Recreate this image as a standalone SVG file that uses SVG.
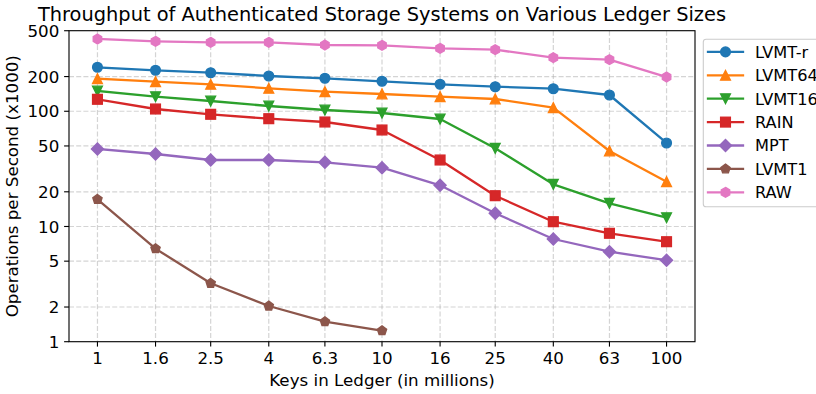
<svg xmlns="http://www.w3.org/2000/svg" width="816" height="394" viewBox="0 0 816 394">
  <style>
    text { font-family: "DejaVu Sans", "Liberation Sans", sans-serif; fill: #000; }
    .tick { font-size: 16.7px; }
    .xt { text-anchor: middle; }
    .yt { text-anchor: end; }
    .lab { font-size: 16.7px; text-anchor: middle; }
    .title { font-size: 19.4px; text-anchor: middle; }
    .leg { font-size: 16.2px; }
    .grid line { stroke: #b0b0b0; stroke-opacity: 0.55; stroke-width: 1.2; stroke-dasharray: 5 2.2; }
    .ticks line { stroke: #000; stroke-width: 1.11; }
    .series polyline { fill: none; stroke-width: 2.3; stroke-linejoin: round; stroke-linecap: square; }
    .mk { stroke-width: 1.39; stroke-linejoin: miter; }
  </style>
  <defs>
    <marker id="m-lvmtr" markerUnits="userSpaceOnUse" viewBox="-10 -10 20 20" markerWidth="20" markerHeight="20" refX="0" refY="0" overflow="visible">
      <circle class="mk" r="4.86" fill="#1f77b4" stroke="#1f77b4"/>
    </marker>
    <marker id="m-lvmt64" markerUnits="userSpaceOnUse" viewBox="-10 -10 20 20" markerWidth="20" markerHeight="20" refX="0" refY="0" overflow="visible">
      <polygon class="mk" points="0,-4.86 -4.86,4.86 4.86,4.86" fill="#ff7f0e" stroke="#ff7f0e"/>
    </marker>
    <marker id="m-lvmt16" markerUnits="userSpaceOnUse" viewBox="-10 -10 20 20" markerWidth="20" markerHeight="20" refX="0" refY="0" overflow="visible">
      <polygon class="mk" points="0,4.86 -4.86,-4.86 4.86,-4.86" fill="#2ca02c" stroke="#2ca02c"/>
    </marker>
    <marker id="m-rain" markerUnits="userSpaceOnUse" viewBox="-10 -10 20 20" markerWidth="20" markerHeight="20" refX="0" refY="0" overflow="visible">
      <rect class="mk" x="-4.86" y="-4.86" width="9.72" height="9.72" fill="#d62728" stroke="#d62728"/>
    </marker>
    <marker id="m-mpt" markerUnits="userSpaceOnUse" viewBox="-10 -10 20 20" markerWidth="20" markerHeight="20" refX="0" refY="0" overflow="visible">
      <polygon class="mk" points="0,-6 6,0 0,6 -6,0" fill="#9467bd" stroke="#9467bd"/>
    </marker>
    <marker id="m-lvmt1" markerUnits="userSpaceOnUse" viewBox="-10 -10 20 20" markerWidth="20" markerHeight="20" refX="0" refY="0" overflow="visible">
      <polygon class="mk" points="0,-4.86 4.622,-1.502 2.857,3.932 -2.857,3.932 -4.622,-1.502" fill="#8c564b" stroke="#8c564b"/>
    </marker>
    <marker id="m-raw" markerUnits="userSpaceOnUse" viewBox="-10 -10 20 20" markerWidth="20" markerHeight="20" refX="0" refY="0" overflow="visible">
      <polygon class="mk" points="0,-4.86 4.209,-2.43 4.209,2.43 0,4.86 -4.209,2.43 -4.209,-2.43" fill="#e377c2" stroke="#e377c2"/>
    </marker>
  </defs>

  <rect width="816" height="394" fill="#ffffff"/>

  <!-- dashed grid -->
  <g class="grid" id="grid">
    <line x1="69" y1="76.57" x2="695" y2="76.57"/>
    <line x1="69" y1="111.26" x2="695" y2="111.26"/>
    <line x1="69" y1="145.95" x2="695" y2="145.95"/>
    <line x1="69" y1="191.80" x2="695" y2="191.80"/>
    <line x1="69" y1="226.48" x2="695" y2="226.48"/>
    <line x1="69" y1="261.16" x2="695" y2="261.16"/>
    <line x1="69" y1="307.02" x2="695" y2="307.02"/>
    <line x1="97.45" y1="30.7" x2="97.45" y2="341.7"/>
    <line x1="155.53" y1="30.7" x2="155.53" y2="341.7"/>
    <line x1="210.68" y1="30.7" x2="210.68" y2="341.7"/>
    <line x1="268.77" y1="30.7" x2="268.77" y2="341.7"/>
    <line x1="324.90" y1="30.7" x2="324.90" y2="341.7"/>
    <line x1="382.00" y1="30.7" x2="382.00" y2="341.7"/>
    <line x1="440.08" y1="30.7" x2="440.08" y2="341.7"/>
    <line x1="495.23" y1="30.7" x2="495.23" y2="341.7"/>
    <line x1="553.32" y1="30.7" x2="553.32" y2="341.7"/>
    <line x1="609.45" y1="30.7" x2="609.45" y2="341.7"/>
    <line x1="666.55" y1="30.7" x2="666.55" y2="341.7"/>
  </g>

  <!-- data series -->
  <g class="series" id="connectors">
    <g id="s-lvmtr">
      <polyline stroke="#1f77b4" marker-start="url(#m-lvmtr)" marker-mid="url(#m-lvmtr)" marker-end="url(#m-lvmtr)"
        points="97.45,67.3 155.53,70.3 210.68,72.7 268.77,76 324.90,78.3 382.00,81.3 440.08,84.3 495.23,86.7 553.32,88.7 609.45,95 666.55,143"/>
    </g>
    <g id="s-lvmt64">
      <polyline stroke="#ff7f0e" marker-start="url(#m-lvmt64)" marker-mid="url(#m-lvmt64)" marker-end="url(#m-lvmt64)"
        points="97.45,78.7 155.53,81.7 210.68,84.3 268.77,88.3 324.90,91.7 382.00,94 440.08,96.7 495.23,99 553.32,107.7 609.45,151 666.55,181.7"/>
    </g>
    <g id="s-lvmt16">
      <polyline stroke="#2ca02c" marker-start="url(#m-lvmt16)" marker-mid="url(#m-lvmt16)" marker-end="url(#m-lvmt16)"
        points="97.45,91 155.53,96.7 210.68,101 268.77,106 324.90,110 382.00,113 440.08,119 495.23,148.3 553.32,184.3 609.45,203.3 666.55,217.7"/>
    </g>
    <g id="s-rain">
      <polyline stroke="#d62728" marker-start="url(#m-rain)" marker-mid="url(#m-rain)" marker-end="url(#m-rain)"
        points="97.45,99.3 155.53,109 210.68,114.3 268.77,118.7 324.90,122 382.00,130 440.08,160 495.23,195.7 553.32,221.7 609.45,233.3 666.55,241.7"/>
    </g>
    <g id="s-mpt">
      <polyline stroke="#9467bd" marker-start="url(#m-mpt)" marker-mid="url(#m-mpt)" marker-end="url(#m-mpt)"
        points="97.45,149 155.53,154 210.68,160 268.77,160 324.90,162.3 382.00,167.7 440.08,185.3 495.23,213.3 553.32,239 609.45,251.7 666.55,260.3"/>
    </g>
    <g id="s-lvmt1">
      <polyline stroke="#8c564b" marker-start="url(#m-lvmt1)" marker-mid="url(#m-lvmt1)" marker-end="url(#m-lvmt1)"
        points="97.45,199.3 155.53,248.7 210.68,283.3 268.77,306 324.90,321.7 382.00,330.7"/>
    </g>
    <g id="s-raw">
      <polyline stroke="#e377c2" marker-start="url(#m-raw)" marker-mid="url(#m-raw)" marker-end="url(#m-raw)"
        points="97.45,39 155.53,41.3 210.68,42.3 268.77,42.3 324.90,45 382.00,45.3 440.08,48.3 495.23,49.7 553.32,57.7 609.45,59.7 666.55,77"/>
    </g>
  </g>

  <!-- axes frame and ticks -->
  <g id="axes">
    <rect x="69" y="30.7" width="626" height="311" fill="none" stroke="#000" stroke-width="1.11"/>
    <g class="ticks">
      <line x1="64.1" y1="30.72" x2="69" y2="30.72"/>
      <line x1="64.1" y1="76.57" x2="69" y2="76.57"/>
      <line x1="64.1" y1="111.26" x2="69" y2="111.26"/>
      <line x1="64.1" y1="145.95" x2="69" y2="145.95"/>
      <line x1="64.1" y1="191.80" x2="69" y2="191.80"/>
      <line x1="64.1" y1="226.48" x2="69" y2="226.48"/>
      <line x1="64.1" y1="261.16" x2="69" y2="261.16"/>
      <line x1="64.1" y1="307.02" x2="69" y2="307.02"/>
      <line x1="64.1" y1="341.7" x2="69" y2="341.7"/>
      <line x1="97.45" y1="341.7" x2="97.45" y2="346.6"/>
      <line x1="155.53" y1="341.7" x2="155.53" y2="346.6"/>
      <line x1="210.68" y1="341.7" x2="210.68" y2="346.6"/>
      <line x1="268.77" y1="341.7" x2="268.77" y2="346.6"/>
      <line x1="324.90" y1="341.7" x2="324.90" y2="346.6"/>
      <line x1="382.00" y1="341.7" x2="382.00" y2="346.6"/>
      <line x1="440.08" y1="341.7" x2="440.08" y2="346.6"/>
      <line x1="495.23" y1="341.7" x2="495.23" y2="346.6"/>
      <line x1="553.32" y1="341.7" x2="553.32" y2="346.6"/>
      <line x1="609.45" y1="341.7" x2="609.45" y2="346.6"/>
      <line x1="666.55" y1="341.7" x2="666.55" y2="346.6"/>
    </g>
    <g class="tick yt">
      <text x="59.3" y="36.8">500</text>
      <text x="59.3" y="82.6">200</text>
      <text x="59.3" y="117.3">100</text>
      <text x="59.3" y="152.0">50</text>
      <text x="59.3" y="197.9">20</text>
      <text x="59.3" y="232.6">10</text>
      <text x="59.3" y="267.2">5</text>
      <text x="59.3" y="313.1">2</text>
      <text x="59.3" y="347.8">1</text>
    </g>
    <g class="tick xt">
      <text x="97.45" y="364.1">1</text>
      <text x="155.53" y="364.1">1.6</text>
      <text x="210.68" y="364.1">2.5</text>
      <text x="268.77" y="364.1">4</text>
      <text x="324.90" y="364.1">6.3</text>
      <text x="382.00" y="364.1">10</text>
      <text x="440.08" y="364.1">16</text>
      <text x="495.23" y="364.1">25</text>
      <text x="553.32" y="364.1">40</text>
      <text x="609.45" y="364.1">63</text>
      <text x="666.55" y="364.1">100</text>
    </g>
    <text class="lab" x="382" y="386.2">Keys in Ledger (in millions)</text>
    <text class="lab" transform="translate(18,186.2) rotate(-90)">Operations per Second (x1000)</text>
    <text class="title" x="382" y="21.4">Throughput of Authenticated Storage Systems on Various Ledger Sizes</text>
  </g>

  <!-- legend -->
  <g id="legend">
    <rect x="703.3" y="39.3" width="140" height="167.4" rx="2.8" fill="#ffffff" fill-opacity="0.8" stroke="#cccccc" stroke-width="1.1"/>
    <g class="series">
      <polyline stroke="#1f77b4" marker-mid="url(#m-lvmtr)" points="708,51.9 725.5,51.9 743,51.9"/>
      <polyline stroke="#ff7f0e" marker-mid="url(#m-lvmt64)" points="708,75.3 725.5,75.3 743,75.3"/>
      <polyline stroke="#2ca02c" marker-mid="url(#m-lvmt16)" points="708,98.7 725.5,98.7 743,98.7"/>
      <polyline stroke="#d62728" marker-mid="url(#m-rain)" points="708,122.1 725.5,122.1 743,122.1"/>
      <polyline stroke="#9467bd" marker-mid="url(#m-mpt)" points="708,145.5 725.5,145.5 743,145.5"/>
      <polyline stroke="#8c564b" marker-mid="url(#m-lvmt1)" points="708,168.9 725.5,168.9 743,168.9"/>
      <polyline stroke="#e377c2" marker-mid="url(#m-raw)" points="708,192.3 725.5,192.3 743,192.3"/>
    </g>
    <g class="leg">
      <text x="755" y="57.7">LVMT-r</text>
      <text x="755" y="81.1">LVMT64</text>
      <text x="755" y="104.5">LVMT16</text>
      <text x="755" y="127.9">RAIN</text>
      <text x="755" y="151.3">MPT</text>
      <text x="755" y="174.7">LVMT1</text>
      <text x="755" y="198.1">RAW</text>
    </g>
  </g>
</svg>
